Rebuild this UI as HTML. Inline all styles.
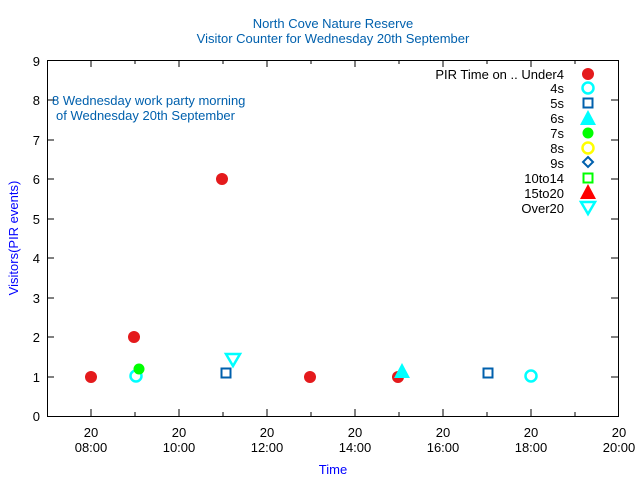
<!DOCTYPE html>
<html><head><style>body{margin:0;background:#fff}svg{display:block}text{font-family:"Liberation Sans",sans-serif;font-size:13px}</style></head><body>
<svg width="640" height="480" xmlns="http://www.w3.org/2000/svg">
<rect width="640" height="480" fill="#fff"/>
<text x="333" y="28" text-anchor="middle" fill="#0060ad">North Cove Nature Reserve</text>
<text x="333" y="43" text-anchor="middle" fill="#0060ad">Visitor Counter for Wednesday 20th September</text>
<rect x="47.5" y="60.5" width="571" height="356" fill="none" stroke="#000"/>
<g stroke="#000">
<path d="M47 377h7M47 337h7M47 298h7M47 258h7M47 219h7M47 179h7M47 140h7M47 100h7M618 377h-7M618 337h-7M618 298h-7M618 258h-7M618 219h-7M618 179h-7M618 140h-7M618 100h-7"/>
<path d="M91 416v-7M179 416v-7M267 416v-7M355 416v-7M443 416v-7M531 416v-7M135 416v-4M223 416v-4M311 416v-4M399 416v-4M487 416v-4M575 416v-4M91 60v7M179 60v7M267 60v7M355 60v7M443 60v7M531 60v7M135 60v4M223 60v4M311 60v4M399 60v4M487 60v4M575 60v4"/>
</g>
<g text-anchor="end" fill="#000">
<text x="40" y="421">0</text><text x="40" y="382">1</text><text x="40" y="342">2</text><text x="40" y="303">3</text><text x="40" y="263">4</text><text x="40" y="224">5</text><text x="40" y="184">6</text><text x="40" y="145">7</text><text x="40" y="105">8</text><text x="40" y="66">9</text>
</g>
<g text-anchor="middle" fill="#000">
<text x="91" y="437">20</text><text x="91" y="452">08:00</text>
<text x="179" y="437">20</text><text x="179" y="452">10:00</text>
<text x="267" y="437">20</text><text x="267" y="452">12:00</text>
<text x="355" y="437">20</text><text x="355" y="452">14:00</text>
<text x="443" y="437">20</text><text x="443" y="452">16:00</text>
<text x="531" y="437">20</text><text x="531" y="452">18:00</text>
<text x="619" y="437">20</text><text x="619" y="452">20:00</text>
</g>
<text x="333" y="474" text-anchor="middle" fill="#0000ff">Time</text>
<text transform="translate(18,238) rotate(-90)" text-anchor="middle" fill="#0000ff">Visitors(PIR events)</text>
<text x="52" y="105" fill="#0060ad">8 Wednesday work party morning</text>
<text x="56" y="120" fill="#0060ad">of Wednesday 20th September</text>
<g text-anchor="end" fill="#000">
<text x="564" y="79">PIR Time on .. Under4</text><text x="564" y="93">4s</text><text x="564" y="108">5s</text><text x="564" y="123">6s</text><text x="564" y="138">7s</text><text x="564" y="153">8s</text><text x="564" y="168">9s</text><text x="564" y="183">10to14</text><text x="564" y="198">15to20</text><text x="564" y="213">Over20</text>
</g>
<circle cx="588" cy="74" r="6" fill="#e41a1c"/>
<circle cx="588" cy="88" r="5.5" fill="none" stroke="#00ffff" stroke-width="2.5"/>
<rect x="583.5" y="98.5" width="9" height="9" fill="none" stroke="#0060ad" stroke-width="2"/>
<path d="M588 110l8 15h-16z" fill="#00ffff"/>
<circle cx="588" cy="133" r="5.5" fill="#00ff00"/>
<circle cx="588" cy="148" r="5.5" fill="none" stroke="#ffff00" stroke-width="2.5"/>
<path d="M588 157l5 5-5 5-5-5z" fill="none" stroke="#0060ad" stroke-width="2"/>
<rect x="583.5" y="173.5" width="9" height="9" fill="none" stroke="#00ff00" stroke-width="2"/>
<path d="M588 184l8 15h-16z" fill="#ff0000"/>
<path d="M581 202h14l-7 12z" fill="none" stroke="#00ffff" stroke-width="2.5"/>
<g fill="#e41a1c">
<circle cx="91" cy="377" r="6"/><circle cx="134" cy="337" r="6"/><circle cx="222" cy="179" r="6"/><circle cx="310" cy="377" r="6"/><circle cx="398" cy="377" r="6"/>
</g>
<circle cx="136" cy="376" r="5.5" fill="none" stroke="#00ffff" stroke-width="2.5"/>
<circle cx="531" cy="376" r="5.5" fill="none" stroke="#00ffff" stroke-width="2.5"/>
<circle cx="139" cy="369" r="5.5" fill="#00ff00"/>
<rect x="221.5" y="368.5" width="9" height="9" fill="none" stroke="#0060ad" stroke-width="2"/>
<rect x="483.5" y="368.5" width="9" height="9" fill="none" stroke="#0060ad" stroke-width="2"/>
<path d="M226 354h14l-7 12z" fill="none" stroke="#00ffff" stroke-width="2.5"/>
<path d="M402 363l8 15h-16z" fill="#00ffff"/>
</svg>
</body></html>
